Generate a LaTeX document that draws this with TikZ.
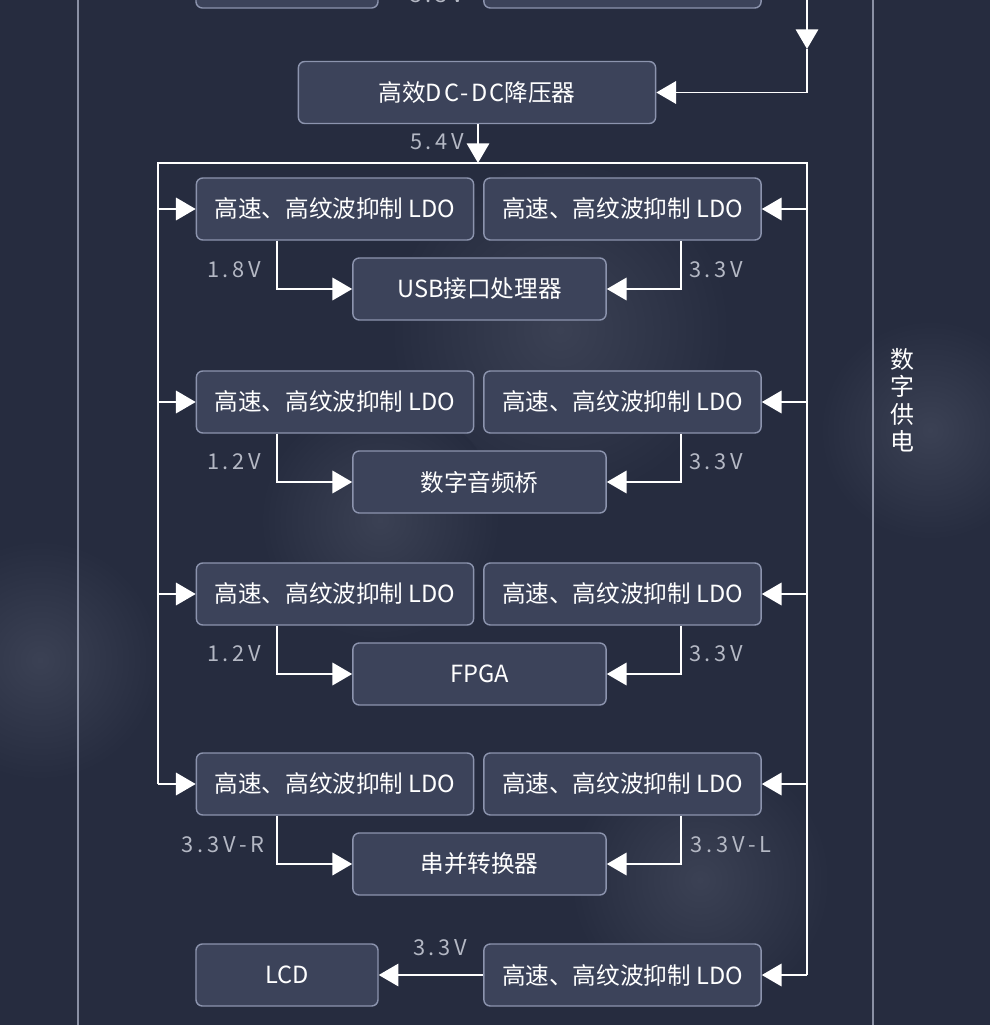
\documentclass[tikz,border=0pt]{standalone}
\usepackage{fontspec}
\setmainfont{Noto Sans CJK SC}
\newfontfamily\voltfont[LetterSpace=17]{Noto Sans CJK SC}
\usetikzlibrary{arrows.meta}

\definecolor{bgnavy}{HTML}{262C3F}
\definecolor{bghaze}{HTML}{3B4154}
\definecolor{boxfill}{HTML}{3C435A}
\definecolor{boxline}{HTML}{8C94AE}
\definecolor{voltgray}{HTML}{B4B8C4}
\definecolor{guidegray}{HTML}{8A90A4}

\tikzset{
  blk/.style={draw=boxline, line width=1pt, fill=boxfill, rounded corners=0.16cm,
    minimum height=1.55cm, inner sep=0pt, text=white, font=\fontsize{16.8}{20}\selectfont},
  ldo/.style={blk, minimum width=6.93cm},
  load/.style={blk, minimum width=6.33cm},
  volt/.style={text=voltgray, font=\voltfont\fontsize{15.5}{18}\selectfont, inner sep=0pt},
  wire/.style={white, line width=1.3pt},
  tip/.style={-{Triangle[length=14pt,width=16pt]}}
}

\begin{document}
\begin{tikzpicture}[x=0.025cm,y=-0.025cm]
  \useasboundingbox (0,0) rectangle (990,1025);
  \fill[bgnavy] (0,0) rectangle (990,1025);
  % hazy background
  \shade[inner color=bghaze, outer color=bgnavy] (560,330) circle (170);
  \shade[inner color=bghaze, outer color=bgnavy] (930,430) circle (110);
  \shade[inner color=bghaze, outer color=bgnavy] (40,660) circle (120);
  \shade[inner color=bghaze, outer color=bgnavy] (700,880) circle (130);
  \shade[inner color=bghaze, outer color=bgnavy] (380,520) circle (120);
  \draw[guidegray, line width=0.8pt] (78,0) -- (78,1025);
  \draw[guidegray, line width=0.8pt] (873,0) -- (873,1025);

  % previous stage (cut off at the top)
  \node[blk, minimum width=4.55cm] (prevL) at (287,-23) {};
  \node[ldo]  (prevR) at (622.5,-23) {};
  \node[volt, anchor=base] (v0) at (437,3) {5.3V};

  \node[blk, minimum width=8.93cm] (DC) at (477,92.5) {高效{\addfontfeature{LetterSpace=9}DC-DC}降压器};
  \coordinate (topin)   at (807,0);
  \coordinate (topmid)  at (807,49);
  \coordinate (topbend) at (807,92.5);
  \draw[wire,tip] (topin) -- (topmid);
  \draw[wire,tip] (topmid) -- (topbend) -- (DC.east);

  % bus
  \coordinate (busL) at (158,163);
  \coordinate (busM) at (478,163);
  \coordinate (busR) at (807,163);
  \draw[wire,tip] (DC.south -| busM) -- (busM);
  \node[volt] (v54) at (437,142) {5.4V};

  \node[ldo]  (L1) at (335,209) {高速、高纹波抑制 LDO};
  \node[ldo]  (R1) at (622.5,209) {高速、高纹波抑制 LDO};
  \node[load] (U)  at (479.5,289) {USB接口处理器};
  \node[ldo]  (L2) at (335,402) {高速、高纹波抑制 LDO};
  \node[ldo]  (R2) at (622.5,402) {高速、高纹波抑制 LDO};
  \node[load] (A)  at (479.5,482) {数字音频桥};
  \node[ldo]  (L3) at (335,594) {高速、高纹波抑制 LDO};
  \node[ldo]  (R3) at (622.5,594) {高速、高纹波抑制 LDO};
  \node[load] (F)  at (479.5,674) {FPGA};
  \node[ldo]  (L4) at (335,784) {高速、高纹波抑制 LDO};
  \node[ldo]  (R4) at (622.5,784) {高速、高纹波抑制 LDO};
  \node[load] (S)  at (479.5,864) {串并转换器};
  \node[blk, minimum width=4.55cm] (LCD) at (287,975) {LCD};
  \node[ldo]  (R5) at (622.5,975) {高速、高纹波抑制 LDO};

  \draw[wire] (busL |- L4.west) -- (busL) -- (busR) -- (busR |- R5.east);
  \foreach \n in {L1,L2,L3,L4}
    \draw[wire,tip] (busL |- \n.west) -- (\n.west);
  \foreach \n in {R1,R2,R3,R4,R5}
    \draw[wire,tip] (busR |- \n.east) -- (\n.east);

  \draw[wire,tip] ([xshift=-1.45cm]L1.south) |- (U.west);
  \draw[wire,tip] ([xshift=1.46cm]R1.south) |- (U.east);
  \draw[wire,tip] ([xshift=-1.45cm]L2.south) |- (A.west);
  \draw[wire,tip] ([xshift=1.46cm]R2.south) |- (A.east);
  \draw[wire,tip] ([xshift=-1.45cm]L3.south) |- (F.west);
  \draw[wire,tip] ([xshift=1.46cm]R3.south) |- (F.east);
  \draw[wire,tip] ([xshift=-1.45cm]L4.south) |- (S.west);
  \draw[wire,tip] ([xshift=1.46cm]R4.south) |- (S.east);
  \draw[wire,tip] (R5.west) -- (LCD.east);

  \node[volt] (v1l) at (234,270) {1.8V};
  \node[volt] (v1r) at (716,270) {3.3V};
  \node[volt] (v2l) at (234,462) {1.2V};
  \node[volt] (v2r) at (716,462) {3.3V};
  \node[volt] (v3l) at (234,654) {1.2V};
  \node[volt] (v3r) at (716,654) {3.3V};
  \node[volt] (v4l) at (223,845) {3.3V-R};
  \node[volt] (v4r) at (731,845) {3.3V-L};
  \node[volt] (v5)  at (440,948) {3.3V};

  \node[text=white, align=center, font=\fontsize{17}{19.5}\selectfont] (side) at (902,400) {数\\字\\供\\电};
\end{tikzpicture}
\end{document}
